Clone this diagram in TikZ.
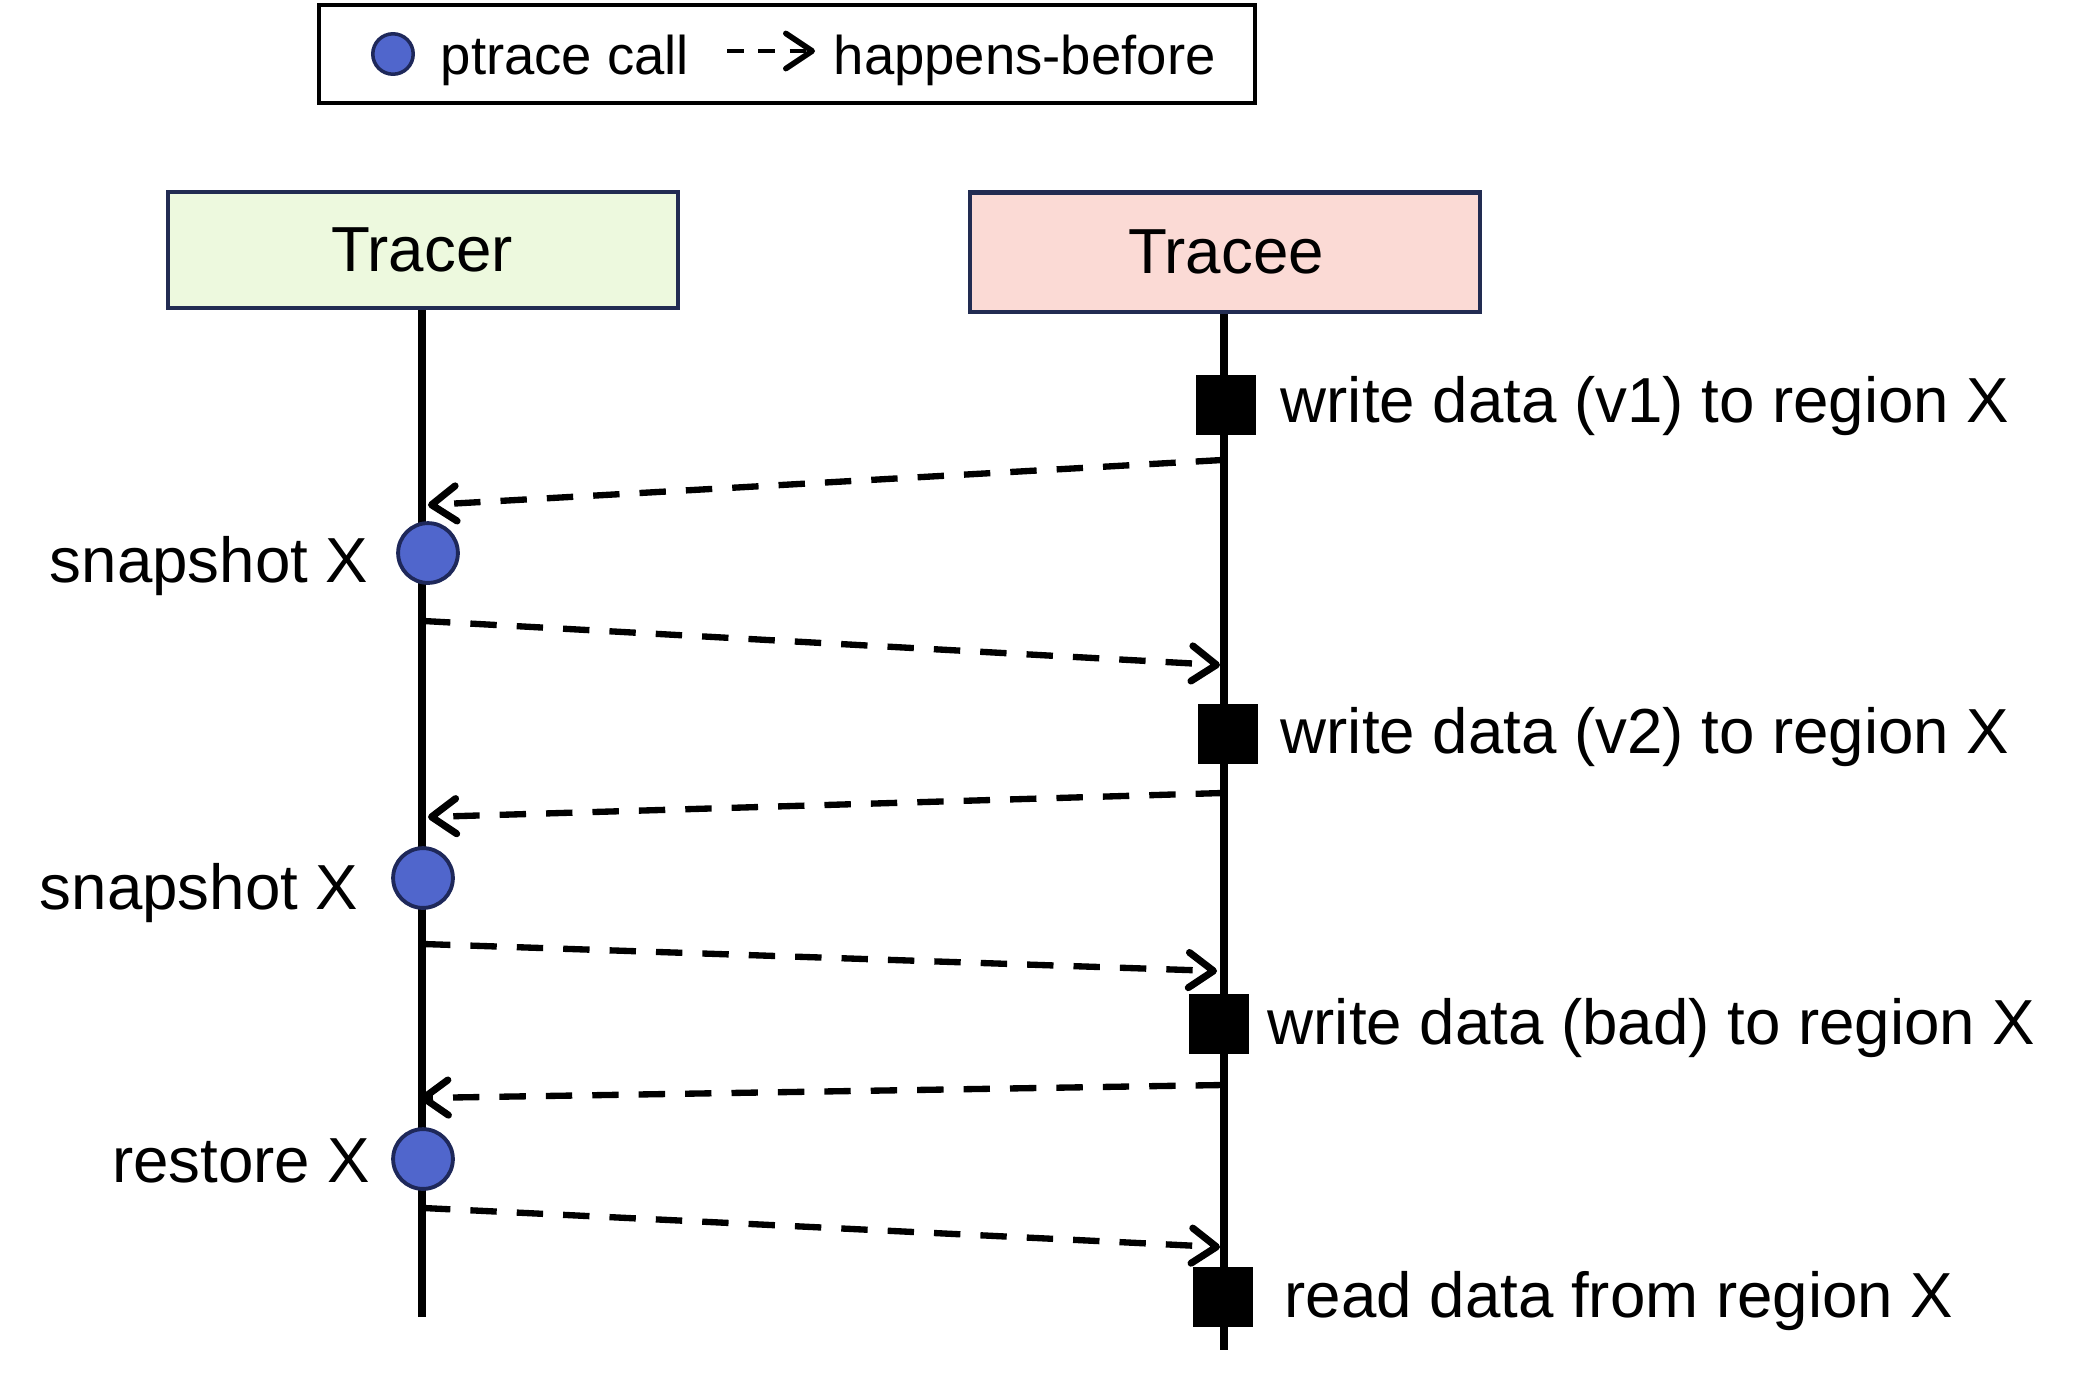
\documentclass[tikz,border=0pt]{standalone}
\usepackage{fontspec}
\setmainfont{Liberation Sans}
\usetikzlibrary{arrows.meta}
\definecolor{dotblue}{RGB}{80,102,204}
\definecolor{dotedge}{RGB}{30,40,90}
\definecolor{boxedge}{RGB}{34,44,82}
\definecolor{tracerfill}{RGB}{237,249,222}
\definecolor{traceefill}{RGB}{251,218,213}
\begin{document}
\begin{tikzpicture}[x=0.01cm,y=-0.01cm,
  lbl/.style={font=\fontsize{18.1pt}{20pt}\selectfont, inner sep=0pt},
  leg/.style={font=\fontsize{15.5pt}{18pt}\selectfont, inner sep=0pt},
  lifeline/.style={line width=2.1pt},
  hb/.style={line width=1.8pt, dash pattern=on 7.5pt off 5.7pt,
    -{Straight Barb[length=7pt,width=10pt,line width=2pt,round]}},
  legarrow/.style={line width=1.3pt, dash pattern=on 4.7pt off 4.2pt,
    -{Straight Barb[length=7.5pt,width=10pt,line width=1.6pt,round]}},
  call/.style={circle, draw=dotedge, fill=dotblue, line width=1.1pt, minimum size=17pt, inner sep=0pt},
  op/.style={fill=black, minimum width=17.3pt, minimum height=17pt, inner sep=0pt},
  actor/.style={draw=boxedge, line width=1.3pt, minimum width=145pt, inner sep=0pt}]
\useasboundingbox (0,0) rectangle (2080,1375);

% legend
\node[draw, line width=1.2pt, minimum width=266pt, minimum height=27.9pt, inner sep=0pt] (legend) at (787,54) {};
\node[call, minimum size=11.5pt, line width=1pt] (legdot) at (393,54) {};
\node[leg, anchor=base west] (legcall) at (440,74) {ptrace call};
\coordinate (legA) at (727,51);
\coordinate (legB) at (815,51);
\draw[legarrow] (legA) -- (legB);
\node[leg, anchor=base west] (leghb) at (833,74) {happens-before};

% actors
\node[actor, fill=tracerfill, minimum height=33pt] (tracer) at (423,250) {};
\node[lbl, anchor=base] (tracert) at (422,271) {Tracer};
\node[actor, fill=traceefill, minimum height=34pt] (tracee) at (1225,252) {};
\node[lbl, anchor=base] (traceet) at (1226,273) {Tracee};

% lifelines
\coordinate (trEnd) at (422,1317);
\coordinate (teEnd) at (1224,1350);
\draw[lifeline] (tracer.south -| trEnd) -- (trEnd);
\draw[lifeline] (tracee.south -| teEnd) -- (teEnd);

% tracee operations
\node[op] (w1) at (1226,405) {};
\node[lbl, anchor=base west] (w1t) at (1280,422) {write data (v1) to region X};
\node[op] (w2) at (1228,734) {};
\node[lbl, anchor=base west] (w2t) at (1280,753) {write data (v2) to region X};
\node[op] (w3) at (1219,1024) {};
\node[lbl, anchor=base west] (w3t) at (1267,1044) {write data (bad) to region X};
\node[op] (r4) at (1223,1297) {};
\node[lbl, anchor=base west] (r4t) at (1284,1317) {read data from region X};

% tracer calls
\node[call] (s1) at (428,553) {};
\node[lbl, anchor=base east] (s1t) at (369,582) {snapshot X};
\node[call] (s2) at (423,878) {};
\node[lbl, anchor=base east] (s2t) at (359,909) {snapshot X};
\node[call] (s3) at (423,1159) {};
\node[lbl, anchor=base east] (s3t) at (371,1182) {restore X};

% happens-before arrows
\coordinate (a1s) at (1222,460);  \coordinate (a1e) at (428,505);
\coordinate (a2s) at (424,621);   \coordinate (a2e) at (1220,665);
\coordinate (a3s) at (1222,793);  \coordinate (a3e) at (428,817);
\coordinate (a4s) at (424,944);   \coordinate (a4e) at (1217,971);
\coordinate (a5s) at (1222,1085); \coordinate (a5e) at (420,1098);
\coordinate (a6s) at (424,1208);  \coordinate (a6e) at (1220,1247);
\draw[hb] (a1s) -- (a1e);
\draw[hb] (a2s) -- (a2e);
\draw[hb] (a3s) -- (a3e);
\draw[hb] (a4s) -- (a4e);
\draw[hb] (a5s) -- (a5e);
\draw[hb] (a6s) -- (a6e);
\end{tikzpicture}
\end{document}
